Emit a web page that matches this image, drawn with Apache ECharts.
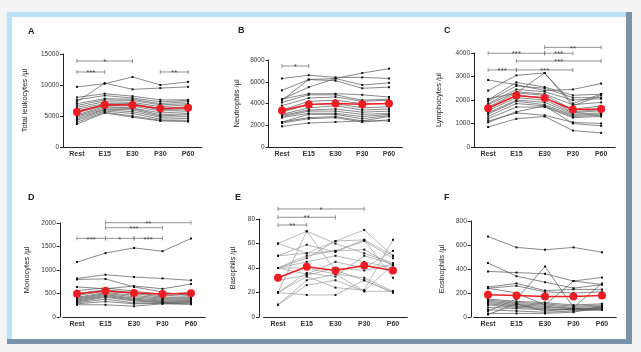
<!DOCTYPE html>
<html>
<head>
<meta charset="utf-8">
<script src="https://cdn.jsdelivr.net/npm/echarts@6/dist/echarts.min.js"></script>
<style>html,body{margin:0;padding:0;background:#f4f4f4}#chart{width:641px;height:352px}</style>
</head>
<body>
<div id="chart"></div>
<script>
var categories = ["Rest", "E15", "E30", "P30", "P60"];

// individual subjects, one row each: Rest, E15, E30, P30, P60
var leukocytes = [
    [9700, 10200, 11300, 10000, 10500],
    [7300, 10300, 9300, 9500, 9700],
    [8000, 8600, 8200, 7600, 7600],
    [7600, 8300, 7900, 7300, 7500],
    [7000, 7800, 7700, 7000, 7300],
    [6700, 7600, 7500, 6800, 7000],
    [6400, 7300, 7200, 6500, 6800],
    [6100, 7000, 7000, 6200, 6500],
    [5800, 6800, 6900, 6000, 6200],
    [5500, 6700, 6600, 5800, 6000],
    [5200, 6500, 6300, 5500, 5700],
    [5000, 6300, 6200, 5200, 5400],
    [4800, 6100, 6000, 5000, 5200],
    [4500, 6000, 5700, 4800, 4900],
    [4300, 5800, 5400, 4500, 4600],
    [4000, 5600, 5000, 4300, 4300],
    [3700, 5500, 4800, 4200, 4100]
];
var leukocyteMean = [5650, 6800, 6780, 6200, 6350];
var leukocyteSig = [[0, 2, 13870, "*"], [0, 1, 12100, "***"], [3, 4, 12100, "**"]];

var neutrophils = [
    [6300, 6600, 6400, 6400, 6300],
    [5200, 6200, 6300, 6800, 7200],
    [4400, 5500, 6300, 5700, 5900],
    [4300, 6200, 6100, 5400, 5500],
    [4400, 4900, 4900, 4800, 4600],
    [4100, 4800, 4800, 4300, 4400],
    [3800, 4500, 4600, 4200, 4300],
    [3400, 4200, 4300, 4000, 4000],
    [3200, 3900, 4000, 3600, 3700],
    [3000, 3600, 3800, 3400, 3500],
    [2900, 3400, 3500, 3200, 3300],
    [2800, 3300, 3300, 3000, 3100],
    [2700, 3100, 3100, 2800, 3000],
    [2300, 3000, 3000, 2600, 2900],
    [2300, 2700, 2800, 2400, 2800],
    [2200, 2600, 2700, 2300, 2500],
    [1900, 2200, 2300, 2400, 2400]
];
var neutrophilMean = [3350, 3900, 3990, 3930, 4000];
var neutrophilSig = [[0, 1, 7450, "*"]];

var lymphocytes = [
    [2850, 2650, 2400, 2450, 2700],
    [2400, 3050, 3150, 1850, 2250],
    [2050, 2300, 3150, 1750, 2200],
    [2000, 2750, 2550, 2200, 2250],
    [1950, 2600, 2500, 2100, 2100],
    [1850, 2450, 2350, 2000, 2050],
    [1800, 2350, 2250, 1800, 1900],
    [1700, 2300, 2200, 1600, 1750],
    [1650, 2200, 2100, 1500, 1600],
    [1550, 2100, 2000, 1450, 1550],
    [1450, 2000, 1900, 1400, 1450],
    [1400, 1950, 1800, 1350, 1400],
    [1300, 1850, 1750, 1300, 1350],
    [1200, 1700, 1700, 1250, 1300],
    [1100, 1450, 1350, 1050, 1000],
    [1050, 1500, 1750, 1000, 900],
    [850, 1200, 1300, 700, 600]
];
var lymphocyteMean = [1650, 2190, 2080, 1595, 1620];
var lymphocyteSig = [
    [2, 4, 4240, "**"], [0, 2, 3990, "***"], [2, 3, 3990, "***"],
    [1, 4, 3660, "***"], [0, 1, 3280, "***"], [1, 3, 3280, "***"]
];

var monocytes = [
    [1170, 1360, 1470, 1400, 1670],
    [820, 900, 850, 820, 780],
    [800, 810, 640, 530, 450],
    [640, 600, 660, 600, 700],
    [560, 620, 550, 480, 520],
    [500, 580, 520, 450, 480],
    [460, 550, 500, 420, 430],
    [420, 520, 460, 400, 410],
    [400, 500, 430, 380, 390],
    [380, 480, 400, 360, 370],
    [360, 460, 380, 340, 350],
    [340, 440, 360, 320, 330],
    [320, 420, 340, 310, 320],
    [300, 380, 300, 300, 300],
    [280, 330, 280, 290, 280],
    [260, 260, 230, 280, 270]
];
var monocyteMean = [495, 553, 510, 490, 503];
var monocyteSig = [
    [1, 4, 2006, "**"], [1, 3, 1900, "***"],
    [0, 1, 1674, "***"], [1, 2, 1674, "*"], [2, 3, 1674, "***"]
];

var basophils = [
    [60, 70, 60, 52, 44],
    [60, 52, 62, 71, 50],
    [50, 59, 53, 63, 32],
    [50, 52, 54, 62, 48],
    [40, 50, 54, 55, 42],
    [40, 45, 50, 45, 40],
    [40, 35, 45, 40, 54],
    [40, 40, 35, 32, 21],
    [30, 34, 40, 38, 43],
    [20, 70, 38, 30, 20],
    [20, 36, 33, 50, 43],
    [20, 33, 24, 22, 63],
    [20, 18, 18, 30, 20],
    [10, 30, 35, 21, 43],
    [10, 26, 30, 21, 21],
    [40, 48, 62, 63, 50]
];
var basophilMean = [32, 41, 38, 42, 38];
var basophilSig = [[0, 3, 88.2, "*"], [0, 2, 81.4, "**"], [0, 1, 75.1, "**"]];

var eosinophils = [
    [670, 580, 560, 580, 540],
    [450, 340, 290, 240, 270],
    [380, 370, 360, 300, 270],
    [250, 280, 220, 230, 230],
    [240, 260, 210, 200, 210],
    [50, 150, 420, 80, 280],
    [240, 200, 100, 300, 330],
    [150, 130, 120, 100, 110],
    [140, 120, 110, 90, 100],
    [130, 110, 100, 80, 90],
    [120, 100, 90, 70, 80],
    [110, 90, 80, 70, 70],
    [100, 80, 70, 60, 70],
    [80, 70, 60, 60, 60],
    [60, 50, 40, 50, 60],
    [30, 30, 30, 40, 90],
    [20, 110, 50, 70, 60]
];
var eosinophilMean = [185, 180, 170, 170, 180];
var eosinophilSig = [];

var panels = [
    { letter: "A", name: "Total leukocytes /µl", rows: leukocytes, mean: leukocyteMean, sig: leukocyteSig, max: 15000, interval: 5000, grid: [63, 54, 139, 93], off: 0, gap: 34, lx: 23, ly: 22, line: "#555" },
    { letter: "B", name: "Neutrophils /µl", rows: neutrophils, mean: neutrophilMean, sig: neutrophilSig, max: 8000, interval: 2000, grid: [268.6, 60, 133.75, 87], off: 0, gap: 28, lx: 233, ly: 21, line: "#555" },
    { letter: "C", name: "Lymphocytes /µl", rows: lymphocytes, mean: lymphocyteMean, sig: lymphocyteSig, max: 4000, interval: 1000, grid: [474, 53, 141.25, 94], off: 0, gap: 31, lx: 439, ly: 21, line: "#555" },
    { letter: "D", name: "Monocytes /µl", rows: monocytes, mean: monocyteMean, sig: monocyteSig, max: 2000, interval: 500, grid: [62.75, 223, 142.5, 94], off: 3, gap: 29, lx: 23, ly: 188, line: "#555" },
    { letter: "E", name: "Basophils /µl", rows: basophils, mean: basophilMean, sig: basophilSig, max: 80, interval: 20, grid: [263.6, 219, 143.75, 98], off: 4.6, gap: 22, lx: 230, ly: 188, line: "#999" },
    { letter: "F", name: "Eosinophils /µl", rows: eosinophils, mean: eosinophilMean, sig: eosinophilSig, max: 800, interval: 200, grid: [473.75, 221, 142.5, 96], off: 3, gap: 25, lx: 439, ly: 188, line: "#555" }
];

var grids = [], xAxes = [], yAxes = [], titles = [], series = [];
var axisCol = "#222";

panels.forEach(function (p, i) {
    grids.push({ left: p.grid[0], top: p.grid[1], width: p.grid[2], height: p.grid[3] });
    titles.push({ text: p.letter, left: p.lx, top: p.ly, textStyle: { fontSize: 9, fontWeight: "bold", color: "#222", fontFamily: "Liberation Sans" } });
    xAxes.push({
        type: "category", gridIndex: i, data: categories,
        axisLine: { lineStyle: { color: axisCol, width: 1 } },
        axisTick: { alignWithLabel: true, length: 3, lineStyle: { color: axisCol } },
        axisLabel: { fontSize: 7, fontWeight: "bold", color: "#333", margin: 4, fontFamily: "Liberation Sans" }
    });
    yAxes.push({
        type: "value", gridIndex: i, min: 0, max: p.max, interval: p.interval, offset: p.off,
        name: p.name, nameLocation: "middle", nameGap: p.gap, nameRotate: 90,
        nameTextStyle: { fontSize: 7.5, color: "#222", fontFamily: "Liberation Sans" },
        splitLine: { show: false },
        axisLine: { show: true, lineStyle: { color: axisCol, width: 1 } },
        axisTick: { show: true, length: 3, lineStyle: { color: axisCol } },
        axisLabel: { fontSize: 6.5, color: "#333", margin: 4, fontFamily: "Liberation Sans", formatter: function (v) { return String(v); } }
    });
    p.rows.forEach(function (r) {
        series.push({
            type: "line", xAxisIndex: i, yAxisIndex: i, data: r, silent: true,
            symbol: "rect", symbolSize: 2,
            lineStyle: { width: 0.7, color: p.line },
            itemStyle: { color: "#111" }
        });
    });
    series.push({
        type: "line", xAxisIndex: i, yAxisIndex: i, data: p.mean, z: 5,
        symbol: "circle", symbolSize: 8,
        lineStyle: { width: 1.5, color: "#ee1d23" },
        itemStyle: { color: "#ee1d23" }
    });
    if (p.sig.length) {
        var sig = p.sig;
        series.push({
            type: "custom", xAxisIndex: i, yAxisIndex: i, clip: false, z: 6,
            data: sig.map(function (s) { return [s[0], s[1], s[2]]; }),
            encode: { x: [0, 1], y: 2 },
            renderItem: function (params, api) {
                var a = api.coord([api.value(0), api.value(2)]);
                var b = api.coord([api.value(1), api.value(2)]);
                var st = { stroke: "#777", lineWidth: 0.8 };
                return {
                    type: "group",
                    children: [
                        { type: "line", shape: { x1: a[0], y1: a[1], x2: b[0], y2: b[1] }, style: st },
                        { type: "line", shape: { x1: a[0], y1: a[1] - 2, x2: a[0], y2: a[1] + 2 }, style: st },
                        { type: "line", shape: { x1: b[0], y1: b[1] - 2, x2: b[0], y2: b[1] + 2 }, style: st },
                        { type: "text", x: (a[0] + b[0]) / 2, y: a[1] + 1, style: { text: sig[params.dataIndex][3], fontSize: 8, fill: "#444", align: "center", verticalAlign: "middle", fontFamily: "Liberation Sans" } }
                    ]
                };
            }
        });
    }
});

var myChart = echarts.init(document.getElementById("chart"));
var option = {
    backgroundColor: "#f4f4f4",
    animation: false,
    graphic: [
        { type: "rect", z: -10, shape: { x: 7, y: 12, width: 625, height: 332 }, style: { fill: "#7a93a9" } },
        { type: "rect", z: -9, shape: { x: 7, y: 12, width: 619, height: 327 }, style: { fill: "#bde0f8" } },
        { type: "rect", z: -8, shape: { x: 12, y: 17, width: 614, height: 322 }, style: { fill: "#ffffff" } }
    ],
    title: titles,
    grid: grids,
    xAxis: xAxes,
    yAxis: yAxes,
    series: series
};
myChart.setOption(option);
</script>
</body>
</html>
